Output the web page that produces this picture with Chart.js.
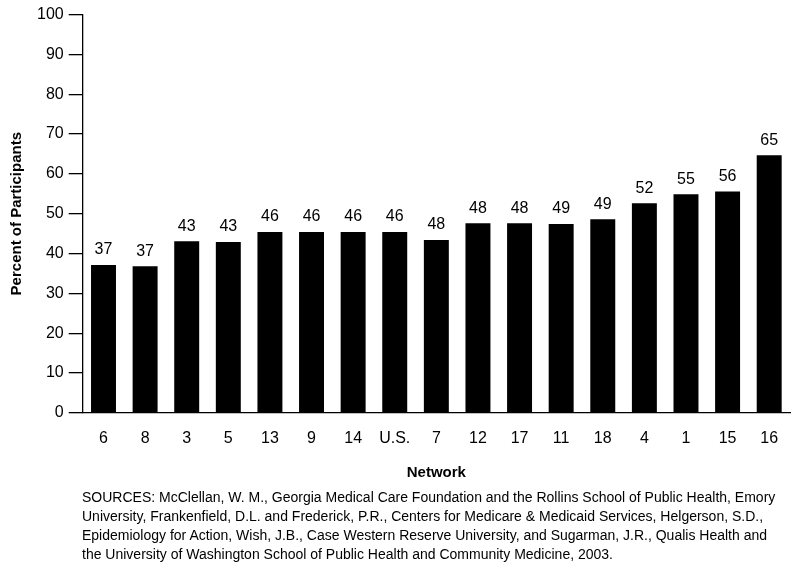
<!DOCTYPE html>
<html>
<head>
<meta charset="utf-8">
<script src="https://cdn.jsdelivr.net/npm/chart.js@4/dist/chart.umd.min.js"></script>
<style>
  body { margin: 0; background: #fff; }
  #wrap { position: relative; width: 796px; height: 564px; }
  #nota {
    position: absolute; left: 82px; top: 488px; width: 700px;
    font-family: "Liberation Sans", Arial, sans-serif; font-size: 14px;
    line-height: 19px; color: #000;
  }
</style>
</head>
<body>
<div id="wrap">
  <canvas id="grafico" width="796" height="564"></canvas>
  <div id="nota">SOURCES: McClellan, W. M., Georgia Medical Care Foundation and the Rollins School of Public Health, Emory University, Frankenfield, D.L. and Frederick, P.R., Centers for Medicare &amp; Medicaid Services, Helgerson, S.D., Epidemiology for Action, Wish, J.B., Case Western Reserve University, and Sugarman, J.R., Qualis Health and the University of Washington School of Public Health and Community Medicine, 2003.</div>
</div>
<script>
// Redes (eje x)
const redes = ["6", "8", "3", "5", "13", "9", "14", "U.S.", "7", "12", "17", "11", "18", "4", "1", "15", "16"];
// Altura de las barras tal como se ven en el gráfico
const alturas = [37.1, 36.8, 43.1, 42.9, 45.4, 45.4, 45.4, 45.4, 43.4, 47.6, 47.6, 47.4, 48.6, 52.6, 54.9, 55.6, 64.7];
// Etiquetas impresas sobre cada barra
const etiquetas = [37, 37, 43, 43, 46, 46, 46, 46, 48, 48, 48, 49, 49, 52, 55, 56, 65];
const ticksY = [0, 10, 20, 30, 40, 50, 60, 70, 80, 90, 100];

const fuente = "'Liberation Sans', Arial, sans-serif";

// Plugin para dibujar los valores arriba de las barras
const etiquetasPlugin = {
    id: 'etiquetas',
    afterDatasetsDraw(chart) {
        const ctx = chart.ctx;
        const meta = chart.getDatasetMeta(0);
        ctx.save();
        ctx.fillStyle = '#000';
        ctx.font = '16px ' + fuente;
        ctx.textAlign = 'center';
        ctx.textBaseline = 'middle';
        meta.data.forEach((bar, i) => {
            ctx.fillText(String(etiquetas[i]), bar.x, bar.y - 15);
        });
        ctx.restore();
    }
};

new Chart(document.getElementById('grafico'), {
    type: 'bar',
    data: {
        labels: redes,
        datasets: [{
            data: alturas,
            backgroundColor: '#000',
            borderWidth: 0,
            barPercentage: 0.6,
            categoryPercentage: 1
        }]
    },
    options: {
        responsive: false,
        animation: false,
        layout: { padding: { top: 5, right: 6, bottom: 80, left: 8 } },
        plugins: { legend: { display: false }, tooltip: { enabled: false } },
        scales: {
            x: {
                grid: { display: false, drawTicks: false },
                border: { display: true, color: '#000', width: 1.3 },
                ticks: { color: '#000', font: { family: fuente, size: 16 }, padding: 16, maxRotation: 0 },
                title: {
                    display: true, text: 'Network', color: '#000',
                    font: { family: fuente, size: 15, weight: 'bold' },
                    padding: { top: 0, bottom: 2 }
                }
            },
            y: {
                min: 0, max: 100,
                afterBuildTicks(axis) { axis.ticks = ticksY.map(v => ({ value: v })); },
                grid: { drawOnChartArea: false, drawTicks: true, tickLength: 14, color: '#000', lineWidth: 1.3 },
                border: { display: true, color: '#000', width: 1.3 },
                ticks: { color: '#000', font: { family: fuente, size: 16 }, padding: 5 },
                title: {
                    display: true, text: 'Percent of Participants', color: '#000',
                    font: { family: fuente, size: 15, weight: 'bold' },
                    padding: { top: 0, bottom: 6 }
                }
            }
        }
    },
    plugins: [etiquetasPlugin]
});
</script>
</body>
</html>
